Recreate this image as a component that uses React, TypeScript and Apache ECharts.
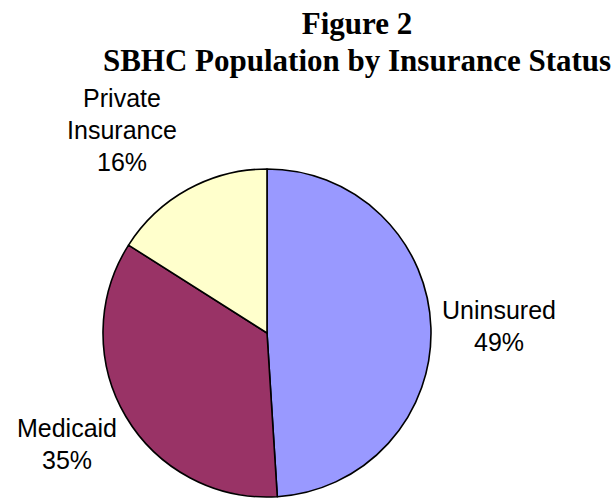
import React, { useEffect, useRef } from "react";
import * as echarts from "echarts";

const categories = ["Uninsured", "Medicaid", "Private Insurance"];
const values = [49, 35, 16];
const colors = ["#9999FF", "#993366", "#FFFFCC"];
const titleLines = ["Figure 2", "SBHC Population by Insurance Status"];

// label block centres (layout only)
const labelCenters: [number, number][] = [
  [499, 326],
  [67, 444],
  [122, 130],
];

export default function App() {
  const ref = useRef<HTMLDivElement>(null);
  useEffect(() => {
    document.body.style.margin = "0";
    const chart = echarts.init(ref.current!, undefined, { renderer: "svg" });
    chart.setOption({
      animation: false,
      backgroundColor: "#ffffff",
      title: {
        text: titleLines.join("\n"),
        left: 352,
        top: 0,
        textAlign: "center",
        textStyle: {
          fontFamily: "Liberation Serif",
          fontWeight: "bold",
          fontSize: 31,
          lineHeight: 37,
          color: "#000",
        },
      },
      series: [
        {
          type: "pie",
          center: [267, 333],
          radius: 164,
          startAngle: 90,
          clockwise: true,
          avoidLabelOverlap: false,
          itemStyle: { borderColor: "#000", borderWidth: 1.6 },
          emphasis: { disabled: true },
          labelLine: { show: false },
          label: {
            show: true,
            position: "outside",
            fontFamily: "Liberation Sans",
            fontSize: 25,
            lineHeight: 32,
            color: "#000",
            align: "center",
            formatter: (p: any) => p.name.replace(" ", "\n") + "\n" + p.value + "%",
          },
          labelLayout: (p: any) => ({
            x: labelCenters[p.dataIndex][0],
            y: labelCenters[p.dataIndex][1],
            align: "center",
            verticalAlign: "middle",
          }),
          data: categories.map((c, i) => ({
            name: c,
            value: values[i],
            itemStyle: { color: colors[i] },
          })),
        },
      ],
    });
    return () => chart.dispose();
  }, []);
  return (
    <div
      ref={ref}
      style={{ position: "absolute", left: 0, top: 0, width: 615, height: 498 }}
    />
  );
}
